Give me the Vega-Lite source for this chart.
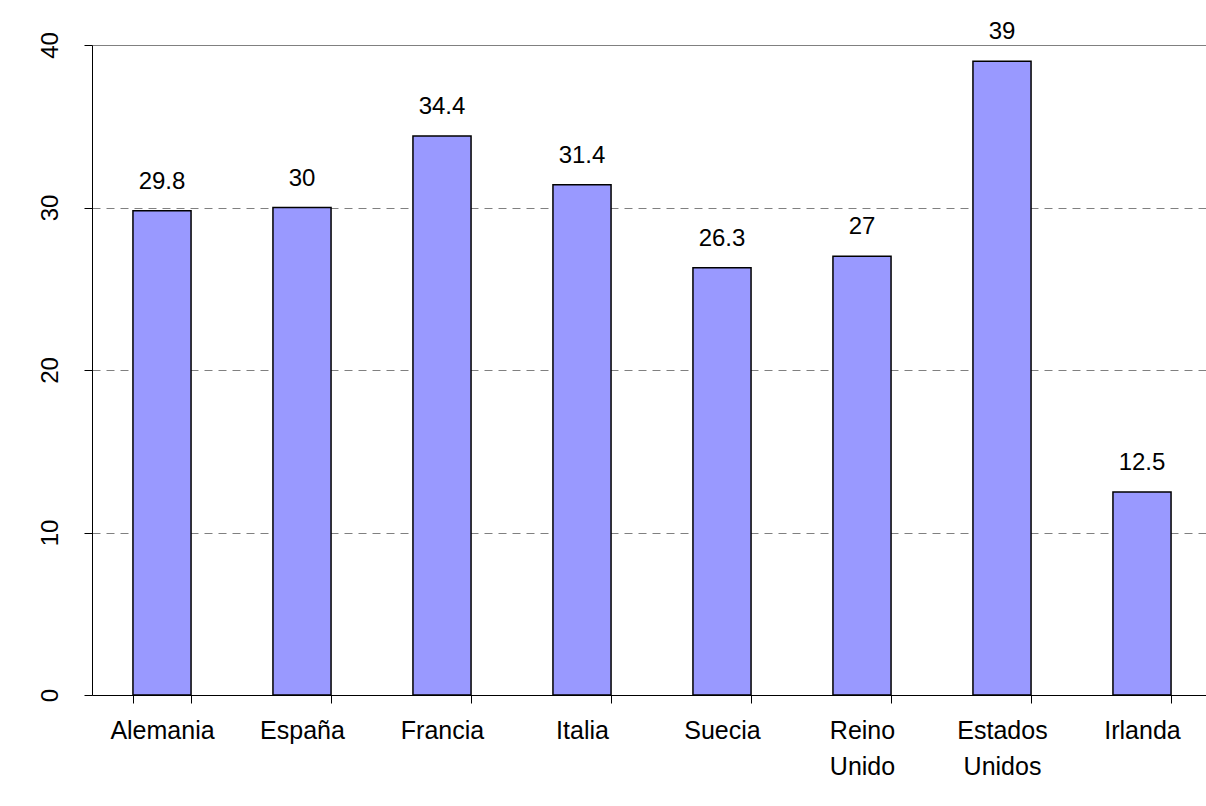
{
  "$schema": "https://vega.github.io/schema/vega-lite/v6.json",
  "autosize": {"type": "none"},
  "padding": {"left": 92, "top": 45, "right": 0, "bottom": 111},
  "width": 1120,
  "height": 650,
  "background": "white",
  "config": {
    "view": {"stroke": null},
    "font": "Liberation Sans",
    "axis": {"labelFont": "Liberation Sans", "labelColor": "black"}
  },
  "data": {
    "values": [
      {"pais": "Alemania", "valor": 29.8},
      {"pais": "España", "valor": 30},
      {"pais": "Francia", "valor": 34.4},
      {"pais": "Italia", "valor": 31.4},
      {"pais": "Suecia", "valor": 26.3},
      {"pais": "Reino Unido", "valor": 27},
      {"pais": "Estados Unidos", "valor": 39},
      {"pais": "Irlanda", "valor": 12.5}
    ]
  },
  "encoding": {
    "x": {
      "field": "pais",
      "type": "nominal",
      "sort": null,
      "scale": {"paddingInner": 0.585, "paddingOuter": 0.2925},
      "axis": {
        "title": null,
        "labelAngle": 0,
        "labelFontSize": 25,
        "labelExpr": "split(datum.label, ' ')",
        "labelLineHeight": 36,
        "labelBaseline": "top",
        "labelPadding": 15,
        "tickBand": "extent",
        "tickSize": 8,
        "tickColor": "#000000",
        "domainColor": "#000000",
        "grid": false
      }
    },
    "y": {
      "field": "valor",
      "type": "quantitative",
      "scale": {"domain": [0, 40], "nice": false},
      "axis": {
        "title": null,
        "values": [0, 10, 20, 30, 40],
        "labelAngle": -90,
        "labelFontSize": 24,
        "labelPadding": 22,
        "tickSize": 8,
        "tickColor": "#000000",
        "domainColor": "#000000",
        "grid": true,
        "gridColor": "#808080",
        "gridWidth": 1,
        "gridDash": {"condition": {"test": "datum.value === 40", "value": []}, "value": [8, 6]}
      }
    }
  },
  "layer": [
    {
      "mark": {"type": "bar", "color": "#9999FF", "stroke": "#000000", "strokeWidth": 1.5}
    },
    {
      "mark": {"type": "text", "fontSize": 24, "baseline": "alphabetic", "dy": -22, "color": "black"},
      "encoding": {"text": {"field": "valor", "type": "quantitative"}}
    }
  ]
}
